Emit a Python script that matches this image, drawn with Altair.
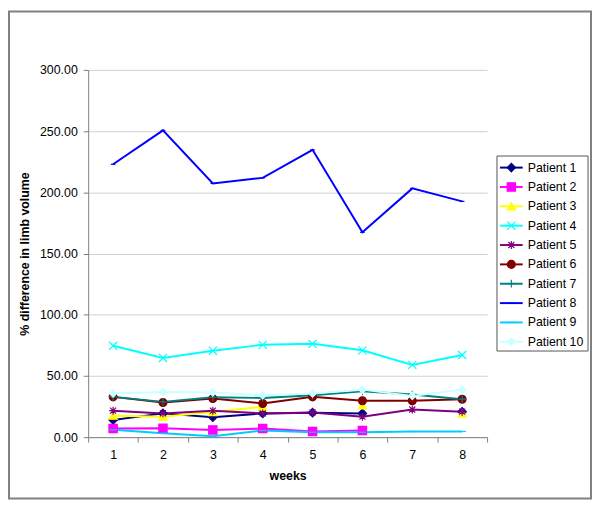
import altair as alt
import pandas as pd

weeks = [1, 2, 3, 4, 5, 6, 7, 8]
patients = [f"Patient {i}" for i in range(1, 11)]

p1 = [14.0, 19.4, 16.2, 19.4, 20.0, 19.4, None, 20.8]
p2 = [7.0, 7.3, 5.9, 7.0, 4.6, 5.4, None, None]
p3 = [17.5, 16.7, 20.5, 24.8, None, 26.0, None, 19.4]
p4 = [74.6, 64.7, 70.6, 75.4, 76.2, 70.9, 59.0, 67.1]
p5 = [21.6, 19.4, 21.6, 19.4, 20.2, 16.7, 22.6, 20.8]
p6 = [32.9, 28.3, 31.5, 27.5, 32.9, 29.7, 29.7, 31.0]
p7 = [32.9, 28.8, 32.5, 32.0, 34.2, 37.4, 34.8, 31.0]
p8 = [222.9, 250.6, 207.3, 211.8, 234.7, 167.3, 203.2, 192.6]
p9 = [6.0, 3.2, 0.8, 5.4, 4.0, 4.0, 4.6, 4.6]
p10 = [35.6, 36.9, 36.4, 34.2, 35.6, 38.8, 33.7, 38.8]
series = [p1, p2, p3, p4, p5, p6, p7, p8, p9, p10]

y_ticks = [0, 50, 100, 150, 200, 250, 300]

colors = ["#000080", "#FF00FF", "#FFFF00", "#00FFFF", "#800080",
          "#800000", "#008080", "#0000FF", "#00CCFF", "#CCFFFF"]
shapes = [
    "diamond",
    "square",
    "triangle-up",
    "M-1,-1L1,1M-1,1L1,-1",
    "M-1,0L1,0M0,-1L0,1M-0.75,-0.75L0.75,0.75M-0.75,0.75L0.75,-0.75",
    "circle",
    "M-1,0L1,0M0,-1L0,1",
    "M-0.6,0L0.6,0",
    "M-1,0L1,0",
    "diamond",
]
sizes = [72, 56, 36, 64, 72, 72, 64, 49, 64, 64]

rows = []
for name, vals in zip(patients, series):
    seg = 0
    for w, v in zip(weeks, vals):
        if v is None:
            seg += 1
            continue
        rows.append({"patient": name, "week": w, "value": v, "seg": f"{name}-{seg}"})
df = pd.DataFrame(rows)
leg_df = pd.DataFrame({"patient": patients})
one = pd.DataFrame({"k": [0]})

FONT = "Liberation Sans, Arial"

color_scale = alt.Scale(domain=patients, range=colors)
shape_scale = alt.Scale(domain=patients, range=shapes)
size_scale = alt.Scale(domain=patients, range=sizes)

X = alt.X(
    "week:O",
    scale=alt.Scale(type="band", paddingInner=0, paddingOuter=0),
    axis=alt.Axis(title="weeks", labelAngle=0, tickBand="extent", tickSize=5,
                  labelPadding=7, titlePadding=8, labelFontSize=12.5,
                  titleFontSize=12.5, titleFontWeight="bold", grid=False),
)
Y = alt.Y(
    "value:Q",
    scale=alt.Scale(domain=[0, 300], nice=False, zero=True),
    axis=alt.Axis(title="% difference in limb volume", values=y_ticks, format=".2f",
                  tickSize=5, labelPadding=6, titlePadding=8, labelFontSize=12.5,
                  titleFontSize=12.5, titleFontWeight="bold", grid=True),
)

lines = alt.Chart(df).mark_line(strokeWidth=2).encode(
    x=X, y=Y,
    color=alt.Color("patient:N", scale=color_scale, legend=None),
    detail="seg:N",
)
points = alt.Chart(df).mark_point(opacity=1, strokeWidth=1.2).encode(
    x=X, y=Y,
    shape=alt.Shape("patient:N", scale=shape_scale, legend=None),
    fill=alt.Fill("patient:N", scale=color_scale, legend=None),
    stroke=alt.Stroke("patient:N", scale=color_scale, legend=None),
    size=alt.Size("patient:N", scale=size_scale, legend=None),
)
main = alt.layer(lines, points)

leg_y = alt.Y("patient:N", scale=alt.Scale(type="point", domain=patients, range=[98.7, 274.7], padding=0), axis=None)

outer = alt.Chart(one).mark_rect(fill="transparent", stroke="#808080", strokeWidth=2).encode(
    x=alt.value(-80), x2=alt.value(508), y=alt.value(-59), y2=alt.value(433)
)
box = alt.Chart(one).mark_rect(fill="white", stroke="#555555", strokeWidth=1).encode(
    x=alt.value(413), x2=alt.value(505), y=alt.value(87), y2=alt.value(284)
)
leg_line = alt.Chart(leg_df).mark_rule(strokeWidth=2).encode(
    x=alt.value(416), x2=alt.value(439), y=leg_y,
    color=alt.Color("patient:N", scale=color_scale, legend=None),
)
leg_pts = alt.Chart(leg_df).mark_point(opacity=1, strokeWidth=1.2).encode(
    x=alt.value(427.5), y=leg_y,
    shape=alt.Shape("patient:N", scale=shape_scale, legend=None),
    fill=alt.Fill("patient:N", scale=color_scale, legend=None),
    stroke=alt.Stroke("patient:N", scale=color_scale, legend=None),
    size=alt.Size("patient:N", scale=size_scale, legend=None),
)
leg_text = alt.Chart(leg_df).mark_text(align="left", baseline="middle", fontSize=12.5,
                                        font=FONT, color="black").encode(
    x=alt.value(444), y=leg_y, text="patient:N"
)
legend = alt.layer(outer, box, leg_line, leg_pts, leg_text)

chart = alt.layer(main, legend).resolve_scale(y="independent").properties(
    width=403, height=371,
    autosize=alt.AutoSizeParams(type="none"),
    padding={"left": 81, "top": 60, "right": 106, "bottom": 64},
    background="white",
).configure_view(stroke=None).configure_axis(
    labelFont=FONT, titleFont=FONT, labelColor="black", titleColor="black",
    domainColor="#808080", tickColor="#808080", gridColor="#d0d0d0",
)

chart.save("out.html", embed_options={"renderer": "svg", "actions": False})
